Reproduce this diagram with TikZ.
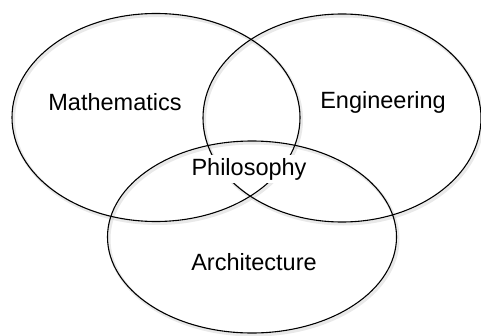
\documentclass[tikz,border=0pt]{standalone}
\usepackage{fontspec}
\setmainfont{Liberation Sans}
\usetikzlibrary{shapes.geometric}
\begin{document}
\begin{tikzpicture}[x=1pt,y=1pt,
  set/.style={ellipse, draw=black, line width=1.1pt, inner sep=0pt},
  halo/.style={ellipse, draw=black!25, line width=3pt, opacity=0.35, inner sep=0pt},
  lbl/.style={font=\fontsize{23.5}{27}\selectfont, text=black}]
\useasboundingbox (0,0) rectangle (481,335);
% soft shadows
\node[halo, minimum width=288pt, minimum height=208pt] (mh) at (157.5,215.5) {};
\node[halo, minimum width=278pt, minimum height=208pt] (eh) at (343.5,215) {};
\node[halo, minimum width=289pt, minimum height=192pt] (ah) at (253.5,96) {};
% sets
\node[set, minimum width=288pt, minimum height=208pt] (m) at (156,217.5) {};
\node[set, minimum width=278pt, minimum height=208pt] (e) at (342,217) {};
\node[set, minimum width=289pt, minimum height=192pt] (a) at (252,98) {};
% labels
\node[lbl] (ml) at (115,233) {Mathematics};
\node[lbl] (el) at (383,233) {Engineering};
\node[lbl] (al) at (254,73) {Architecture};
\node[lbl, fill=white, inner xsep=2pt, inner ysep=3pt] (pl) at (249,166) {Philosophy};
\end{tikzpicture}
\end{document}
